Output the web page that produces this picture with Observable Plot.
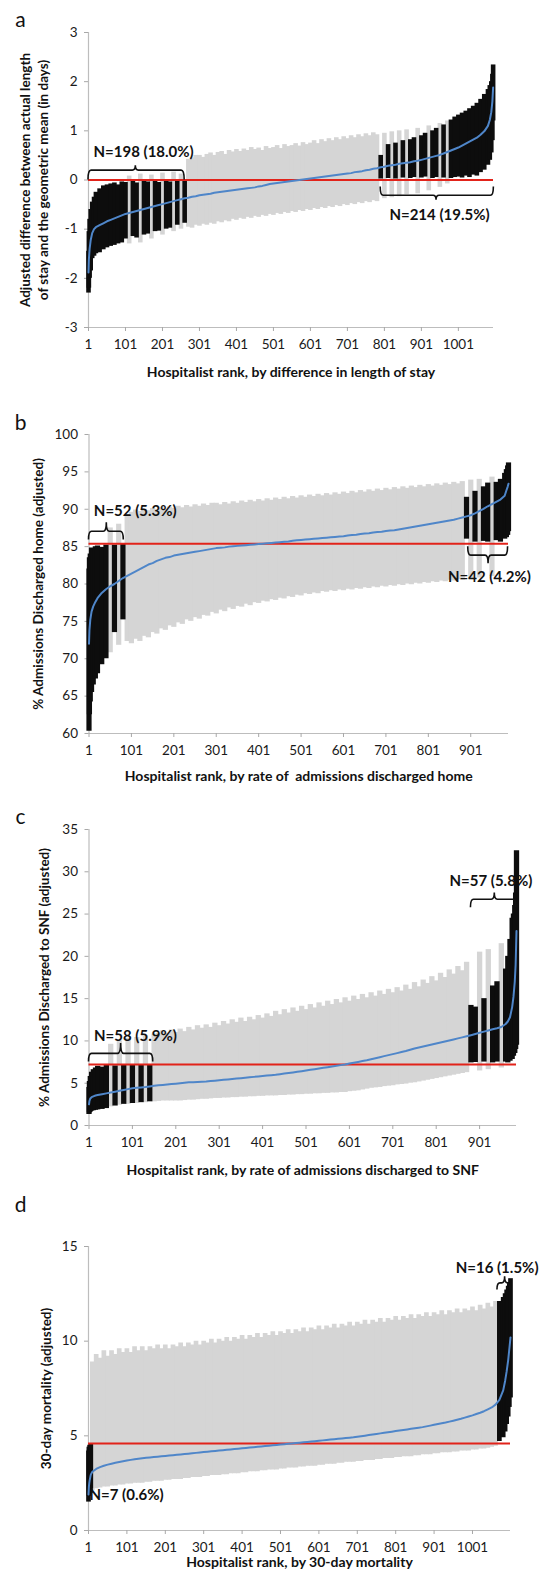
<!DOCTYPE html>
<html><head><meta charset="utf-8">
<script src="https://cdn.jsdelivr.net/npm/d3@7"></script>
<script src="https://cdn.jsdelivr.net/npm/@observablehq/plot@0.6"></script>
<style>
body{margin:0;background:#fff;}
#wrap{position:relative;width:540px;height:1571px;overflow:hidden;background:#fff;}
#wrap svg{position:absolute;left:0;}
</style></head><body><div id="wrap"></div>
<script>
// ---------- Panel a: length of stay ----------
const aRank = [1,2,4,7,11,16,
21,31,41,51,61,71,81,91,
101,111,121,131,141,151,161,171,181,191,
201,211,221,231,241,251,261,271,281,291,
301,311,321,331,341,351,361,371,381,391,
401,411,421,431,441,451,461,471,481,491,
501,511,521,531,541,551,561,571,581,591,
601,611,621,631,641,651,661,671,681,691,
701,711,721,731,741,751,761,771,781,791,
801,811,821,831,841,851,861,871,881,891,
901,911,921,931,941,951,961,971,981,991,
1001,1011,1021,1031,1041,1051,1061,1071,1081,
1086,1090,1093,1095];
const aEst = [-1.88,-1.62,-1.40,-1.22,-1.08,-1.00,
-0.96,-0.92,-0.88,-0.84,-0.81,-0.78,-0.75,-0.72,
-0.69,-0.67,-0.65,-0.63,-0.61,-0.59,-0.57,-0.55,-0.53,-0.51,
-0.49,-0.47,-0.45,-0.43,-0.41,-0.39,-0.37,-0.36,-0.34,-0.33,
-0.31,-0.30,-0.29,-0.28,-0.26,-0.25,-0.24,-0.23,-0.22,-0.21,
-0.20,-0.19,-0.18,-0.17,-0.16,-0.15,-0.13,-0.12,-0.10,-0.08,
-0.07,-0.06,-0.05,-0.04,-0.03,-0.02,-0.01,0.00,0.01,0.02,
0.03,0.04,0.05,0.06,0.07,0.08,0.09,0.10,0.11,0.12,
0.13,0.14,0.16,0.17,0.18,0.20,0.21,0.23,0.24,0.26,
0.27,0.29,0.30,0.31,0.33,0.34,0.35,0.36,0.38,0.39,
0.41,0.43,0.45,0.47,0.49,0.51,0.54,0.57,0.60,0.63,
0.66,0.70,0.74,0.78,0.82,0.86,0.92,0.99,1.10,
1.22,1.38,1.60,1.88];
const aHi = [-1.45,-1.05,-0.80,-0.60,-0.45,-0.35,
-0.25,-0.18,-0.12,-0.10,-0.08,-0.06,-0.10,-0.04,
-0.05,0.08,-0.03,-0.06,0.12,-0.02,-0.04,0.10,-0.03,-0.05,
0.14,-0.02,-0.04,0.16,-0.03,0.12,-0.02,0.42,0.45,0.50,
0.50,0.46,0.52,0.55,0.50,0.56,0.58,0.52,0.60,0.57,
0.62,0.58,0.63,0.60,0.66,0.62,0.65,0.60,0.68,0.64,
0.66,0.70,0.64,0.72,0.68,0.70,0.74,0.69,0.76,0.72,
0.75,0.80,0.74,0.82,0.78,0.84,0.80,0.86,0.82,0.88,
0.84,0.90,0.86,0.92,0.88,0.94,0.90,0.96,0.92,0.50,
0.95,0.72,0.98,0.75,1.00,0.80,1.02,0.82,0.86,1.05,
0.90,0.95,1.10,1.00,1.05,1.15,1.12,1.20,1.22,1.28,
1.32,1.36,1.40,1.45,1.50,1.56,1.64,1.74,1.84,
1.92,2.00,2.15,2.34];
const aLo = [-2.30,-2.20,-2.00,-1.85,-1.60,-1.55,
-1.50,-1.48,-1.42,-1.38,-1.35,-1.33,-1.30,-1.28,
-1.20,-1.30,-1.15,-1.18,-1.28,-1.12,-1.10,-1.20,-1.05,-1.04,
-1.12,-1.00,-0.98,-1.05,-0.92,-1.00,-0.88,-0.96,-0.98,-0.92,
-0.94,-0.90,-0.92,-0.88,-0.90,-0.85,-0.87,-0.83,-0.85,-0.80,
-0.82,-0.78,-0.80,-0.76,-0.78,-0.74,-0.76,-0.72,-0.74,-0.70,
-0.72,-0.68,-0.70,-0.66,-0.68,-0.64,-0.66,-0.62,-0.64,-0.60,
-0.62,-0.58,-0.60,-0.56,-0.58,-0.54,-0.56,-0.52,-0.54,-0.50,
-0.52,-0.48,-0.50,-0.46,-0.48,-0.44,-0.46,-0.42,-0.44,0.02,
-0.38,0.03,-0.36,0.02,-0.34,0.04,-0.30,0.03,0.05,-0.28,
0.04,0.06,-0.22,0.03,0.05,-0.15,0.04,-0.08,0.03,0.05,
0.06,0.04,0.08,0.05,0.10,0.08,0.15,0.20,0.30,
0.40,0.55,0.80,1.20];

// ---------- Panel b: discharged home ----------
const bRank = [1,2,4,7,11,16,
21,31,41,51,61,71,81,91,
101,111,121,131,141,151,161,171,181,191,
201,211,221,231,241,251,261,271,281,291,
301,311,321,331,341,351,361,371,381,391,
401,411,421,431,441,451,461,471,481,491,
501,511,521,531,541,551,561,571,581,591,
601,611,621,631,641,651,661,671,681,691,
701,711,721,731,741,751,761,771,781,791,
801,811,821,831,841,851,861,871,881,891,
901,911,921,931,941,951,961,971,981,
985,988,990];
const bEst = [72.0,73.8,75.2,76.3,77.0,77.6,
78.1,78.8,79.3,79.7,80.0,80.4,80.8,81.1,
81.4,81.7,82.0,82.3,82.6,82.8,83.1,83.3,83.5,83.6,
83.8,83.9,84.0,84.1,84.2,84.3,84.4,84.5,84.6,84.7,
84.8,84.85,84.9,85.0,85.05,85.1,85.15,85.2,85.25,85.3,
85.35,85.4,85.45,85.5,85.55,85.6,85.65,85.7,85.8,85.85,
85.9,85.95,86.0,86.05,86.1,86.15,86.2,86.25,86.3,86.35,
86.4,86.5,86.55,86.6,86.7,86.75,86.8,86.9,86.95,87.0,
87.1,87.15,87.2,87.3,87.4,87.5,87.6,87.7,87.8,87.9,
88.0,88.1,88.2,88.3,88.4,88.5,88.6,88.75,88.9,89.05,
89.2,89.45,89.75,90.05,90.4,90.7,91.0,91.3,91.8,
92.5,93.0,93.4];
const bHi = [82.0,83.5,84.0,84.8,84.5,85.0,
85.1,84.9,85.2,87.5,85.2,88.0,85.3,89.3,
89.6,89.9,89.7,90.0,89.8,90.1,89.9,90.2,90.0,90.3,
90.1,90.4,90.2,90.5,90.3,90.6,90.4,90.7,90.5,90.8,
90.8,90.6,90.9,90.7,91.0,90.8,91.1,90.9,91.2,91.0,
91.3,91.1,91.4,91.2,91.5,91.3,91.6,91.4,91.7,91.5,
91.8,91.6,91.9,91.7,92.0,91.8,92.1,91.9,92.2,92.0,
92.3,92.1,92.4,92.2,92.5,92.3,92.6,92.4,92.7,92.5,
92.8,92.6,92.9,92.7,93.0,92.8,93.1,92.9,93.2,93.0,
93.3,93.1,93.4,93.2,93.5,93.3,93.6,93.4,93.7,91.6,
93.9,92.4,94.0,93.0,93.5,94.3,93.6,94.0,94.8,
95.3,95.8,96.2];
const bLo = [60.3,62.5,64.2,65.5,66.5,67.3,
68.0,69.2,70.0,70.8,73.5,71.8,75.2,72.3,
72.0,72.6,72.3,73.0,72.8,73.5,73.3,74.0,73.8,74.4,
74.2,74.8,74.6,75.2,75.0,75.5,75.3,75.8,75.7,76.2,
76.0,76.5,76.3,76.8,76.6,77.0,76.9,77.3,77.1,77.5,
77.4,77.7,77.6,77.9,77.8,78.1,78.0,78.3,78.2,78.5,
78.4,78.7,78.6,78.8,78.7,79.0,78.9,79.1,79.0,79.2,
79.1,79.3,79.2,79.4,79.3,79.5,79.4,79.6,79.5,79.7,
79.6,79.8,79.7,79.9,79.8,80.0,79.9,80.1,80.0,80.2,
80.1,80.3,80.2,80.4,80.3,80.5,80.4,80.6,80.5,86.0,
80.7,85.6,80.8,85.7,85.6,81.0,85.8,85.6,86.0,
86.2,86.5,87.0];

// ---------- Panel c: discharged to SNF ----------
const cRank = [1,2,4,7,11,16,
21,31,41,51,61,71,81,91,
101,111,121,131,141,151,161,171,181,191,
201,211,221,231,241,251,261,271,281,291,
301,311,321,331,341,351,361,371,381,391,
401,411,421,431,441,451,461,471,481,491,
501,511,521,531,541,551,561,571,581,591,
601,611,621,631,641,651,661,671,681,691,
701,711,721,731,741,751,761,771,781,791,
801,811,821,831,841,851,861,871,881,891,
901,911,921,931,941,951,
961,966,971,976,979,982,984,986];
const cEst = [2.5,2.9,3.2,3.35,3.45,3.55,
3.6,3.7,3.8,3.9,4.0,4.1,4.2,4.3,
4.4,4.45,4.5,4.55,4.62,4.7,4.75,4.8,4.85,4.9,
4.95,5.0,5.05,5.1,5.12,5.15,5.18,5.2,5.25,5.3,
5.35,5.4,5.45,5.5,5.55,5.6,5.65,5.7,5.75,5.8,
5.85,5.9,5.95,6.0,6.07,6.14,6.21,6.28,6.35,6.42,
6.5,6.58,6.66,6.74,6.82,6.9,6.98,7.06,7.14,7.22,
7.32,7.42,7.52,7.62,7.72,7.84,7.96,8.08,8.2,8.32,
8.44,8.56,8.68,8.8,8.95,9.1,9.22,9.34,9.46,9.58,
9.7,9.82,9.94,10.06,10.18,10.3,10.42,10.55,10.68,10.82,
10.96,11.1,11.24,11.38,11.5,11.65,
12.0,12.3,12.8,14.0,15.2,17.0,19.0,23.0];
const cHi = [4.5,5.2,5.8,6.3,6.6,6.8,
7.0,6.9,7.1,9.6,7.05,10.0,7.1,10.3,
7.1,10.4,7.15,10.6,7.1,10.8,10.9,11.2,10.9,11.3,
11.0,11.4,11.1,11.6,11.3,11.8,11.5,11.9,11.6,12.1,
11.8,12.3,12.0,12.5,12.2,12.7,12.3,12.8,12.5,13.0,
12.7,13.2,12.9,13.5,13.1,13.7,13.3,13.9,13.5,14.1,
13.7,14.3,13.9,14.5,14.1,14.7,14.3,14.9,14.5,15.1,
14.7,15.3,14.9,15.5,15.1,15.7,15.3,15.9,15.5,16.1,
15.7,16.3,15.9,16.6,16.1,16.9,16.4,17.2,16.8,17.6,
17.1,18.0,17.5,18.4,17.9,18.8,18.3,19.3,14.2,14.0,
20.5,15.0,20.8,16.5,17.0,21.5,
18.5,20.0,22.0,24.5,25.0,26.0,27.5,32.5];
const cLo = [1.3,1.5,1.6,1.7,1.75,1.8,
1.85,1.9,2.0,2.2,2.3,2.4,2.5,2.5,
2.6,2.6,2.7,2.7,2.8,2.8,2.85,2.9,2.9,2.9,
2.9,2.9,2.95,3.0,3.0,3.05,3.1,3.1,3.15,3.2,
3.2,3.25,3.25,3.3,3.3,3.35,3.35,3.4,3.4,3.45,
3.45,3.5,3.5,3.5,3.55,3.55,3.6,3.6,3.65,3.65,
3.7,3.7,3.75,3.75,3.8,3.8,3.85,3.85,3.9,3.9,
4.0,4.05,4.1,4.2,4.3,4.4,4.45,4.5,4.6,4.65,
4.7,4.8,4.85,4.9,5.0,5.05,5.15,5.25,5.35,5.45,
5.55,5.65,5.75,5.85,5.95,6.05,6.15,6.25,7.4,7.45,
6.45,7.5,6.6,7.4,7.5,6.8,
7.5,7.4,7.6,7.8,8.2,8.5,9.0,9.5];

// ---------- Panel d: 30-day mortality ----------
const dRank = [1,2,3,4,5,6,7,11,
21,31,41,51,61,71,81,91,
101,111,121,131,141,151,161,171,181,191,
201,211,221,231,241,251,261,271,281,291,
301,311,321,331,341,351,361,371,381,391,
401,411,421,431,441,451,461,471,481,491,
501,511,521,531,541,551,561,571,581,591,
601,611,621,631,641,651,661,671,681,691,
701,711,721,731,741,751,761,771,781,791,
801,811,821,831,841,851,861,871,881,891,
901,911,921,931,941,951,961,971,981,991,
1001,1011,1021,1031,1041,1051,1061,1071,1081,
1086,1090,1094,1097,1100];
const dEst = [1.9,2.3,2.5,2.65,2.75,2.85,2.95,3.1,
3.25,3.35,3.42,3.48,3.53,3.58,3.62,3.66,
3.70,3.73,3.76,3.79,3.82,3.84,3.86,3.88,3.90,3.92,
3.94,3.96,3.98,4.00,4.02,4.04,4.06,4.08,4.10,4.12,
4.14,4.16,4.18,4.20,4.22,4.24,4.26,4.28,4.30,4.32,
4.34,4.36,4.38,4.40,4.42,4.44,4.46,4.48,4.50,4.52,
4.54,4.56,4.58,4.60,4.62,4.64,4.66,4.68,4.70,4.72,
4.74,4.76,4.78,4.80,4.82,4.84,4.86,4.88,4.90,4.92,
4.95,4.98,5.01,5.04,5.07,5.10,5.13,5.16,5.19,5.22,
5.25,5.28,5.31,5.34,5.37,5.40,5.43,5.46,5.50,5.54,
5.58,5.62,5.66,5.70,5.75,5.80,5.85,5.90,5.96,6.02,
6.08,6.15,6.22,6.30,6.40,6.50,6.65,6.90,7.40,
7.9,8.4,9.0,9.6,10.2];
const dHi = [4.2,4.4,4.3,4.5,4.4,4.5,4.55,8.9,
9.3,9.1,9.5,9.2,9.5,9.3,9.6,9.4,
9.6,9.4,9.7,9.5,9.7,9.5,9.7,9.6,9.8,9.6,
9.8,9.6,9.8,9.7,9.9,9.7,9.9,9.8,10.0,9.8,
10.0,9.9,10.1,9.9,10.1,10.0,10.2,10.0,10.2,10.1,
10.3,10.1,10.3,10.2,10.4,10.2,10.4,10.3,10.5,10.3,
10.5,10.4,10.6,10.4,10.6,10.5,10.7,10.5,10.7,10.6,
10.8,10.6,10.8,10.7,10.9,10.7,10.9,10.8,11.0,10.8,
11.0,10.9,11.1,10.9,11.1,11.0,11.2,11.0,11.2,11.1,
11.3,11.1,11.3,11.2,11.4,11.2,11.4,11.3,11.5,11.3,
11.5,11.4,11.6,11.4,11.6,11.5,11.7,11.5,11.7,11.6,
11.8,11.6,11.9,11.7,12.0,11.8,12.1,12.1,12.3,
12.5,12.7,12.9,13.1,13.3];
const dLo = [1.5,1.8,1.9,2.0,2.1,2.1,2.2,2.1,
2.2,2.25,2.3,2.3,2.35,2.35,2.4,2.4,
2.45,2.45,2.5,2.5,2.5,2.55,2.55,2.6,2.6,2.6,
2.65,2.65,2.7,2.7,2.7,2.75,2.75,2.8,2.8,2.8,
2.85,2.85,2.9,2.9,2.9,2.95,2.95,3.0,3.0,3.0,
3.05,3.05,3.1,3.1,3.1,3.15,3.15,3.2,3.2,3.2,
3.25,3.25,3.3,3.3,3.3,3.35,3.35,3.4,3.4,3.4,
3.45,3.45,3.5,3.5,3.5,3.55,3.55,3.6,3.6,3.6,
3.65,3.65,3.7,3.7,3.7,3.75,3.75,3.8,3.8,3.8,
3.85,3.85,3.9,3.9,3.9,3.95,3.95,4.0,4.0,4.0,
4.05,4.05,4.1,4.1,4.1,4.15,4.15,4.2,4.2,4.2,
4.25,4.25,4.3,4.3,4.35,4.4,4.45,4.7,4.9,
5.2,5.6,6.0,6.5,7.0];

// ---------- ticks, reference values, labels ----------
const xTicks1100 = [1,101,201,301,401,501,601,701,801,901,1001];
const xTicks1000 = [1,101,201,301,401,501,601,701,801,901];
const yTicksA = [-3,-2,-1,0,1,2,3];
const yTicksB = [60,65,70,75,80,85,90,95,100];
const yTicksC = [0,5,10,15,20,25,30,35];
const yTicksD = [0,5,10,15];
const refs = {a: 0, b: 85.4, c: 7.2, d: 4.6};

const bracketsA = [
  {x1:1, x2:261, xm:129, y:0.19, yEnd:0.0, yNotch:0.29, label:"N=198 (18.0%)", tx:150, ty:0.57},
  {x1:791, x2:1097, xm:942, y:-0.32, yEnd:-0.14, yNotch:-0.41, label:"N=214 (19.5%)", tx:950, ty:-0.72}
];
const bracketsB = [
  {x1:1, x2:83, xm:43, y:87.0, yEnd:85.9, yNotch:88.2, label:"N=52 (5.3%)", tx:110, ty:89.7},
  {x1:895, x2:989, xm:943, y:83.8, yEnd:85.0, yNotch:82.7, label:"N=42 (4.2%)", tx:945, ty:80.9}
];
const bracketsC = [
  {x1:1, x2:149, xm:75, y:8.47, yEnd:7.5, yNotch:9.7, label:"N=58 (5.9%)", tx:108, ty:10.6},
  {x1:881, x2:986, xm:936, y:26.7, yEnd:25.75, yNotch:27.5, label:"N=57 (5.8%)", tx:927, ty:28.85}
];
const bracketsD = [
  {x1:1066, x2:1100, xm:1086, y:13.05, yEnd:12.7, yNotch:13.4, label:"N=16 (1.5%)", tx:1100, ty:13.85, anchor:"end", dx:28}
];
const notesD = [{label:"N=7 (0.6%)", tx:1, ty:1.85, anchor:"start", dx:1}];

const FONT = "Lato, 'Open Sans', 'DejaVu Sans', sans-serif";
const wrap = document.getElementById("wrap");

function bracketMark(b) {
  return (index, scales) => {
    const X = scales.x, Y = scales.y;
    const x1 = X(b.x1), x2 = X(b.x2), xm = X(b.xm);
    const yl = Y(b.y), ye = Y(b.yEnd), yn = Y(b.yNotch);
    const r = 3;
    const p = `M${x1},${ye} Q${x1},${yl} ${x1+r},${yl} L${xm-r},${yl} Q${xm},${yl} ${xm},${yn} Q${xm},${yl} ${xm+r},${yl} L${x2-r},${yl} Q${x2},${yl} ${x2},${ye}`;
    return d3.create("svg:path").attr("d", p).attr("fill", "none")
      .attr("stroke", "#111").attr("stroke-width", 1.6).node();
  };
}

function panel(cfg) {
  const rows = cfg.rank.map((r, i) => ({rank: r, est: cfg.est[i], lo: cfg.lo[i], hi: cfg.hi[i]}));
  const sig = d => d.hi < cfg.ref || d.lo > cfg.ref;
  const gray = rows.filter(d => !sig(d));
  const black = rows.filter(sig);
  const notes = cfg.brackets.concat(cfg.notes || []);
  const marks = [
    Plot.ruleY([cfg.yDomain[0]], {stroke: "#bdbdbd", strokeWidth: 1.2}),
    Plot.ruleX([cfg.xDomain[0]], {stroke: "#bdbdbd", strokeWidth: 1.2}),
    Plot.axisX(cfg.xTicks, {anchor: "bottom", tickSize: 4, tickPadding: 8, stroke: "#a8a8a8",
      fill: "#1a1a1a", fontSize: 13.5, tickFormat: d => String(d), label: null}),
    Plot.axisY(cfg.yTicks, {anchor: "left", tickSize: 4, tickPadding: 7, stroke: "#a8a8a8",
      fill: "#1a1a1a", fontSize: 13.5, tickFormat: d => String(d), label: null}),
    Plot.ruleX(gray, {x: "rank", y1: "lo", y2: "hi", stroke: "#d5d5d5", strokeWidth: cfg.bw, shapeRendering: "geometricPrecision"}),
    Plot.ruleX(black, {x: "rank", y1: "lo", y2: "hi", stroke: "#0d0d0d", strokeWidth: cfg.bw, shapeRendering: "geometricPrecision"}),
    Plot.ruleY([cfg.ref], {stroke: "#e2231a", strokeWidth: 2}),
    Plot.line(rows, {x: "rank", y: "est", stroke: "#4f86c9", strokeWidth: 2}),
    ...cfg.brackets.map(bracketMark),
    ...notes.map(n => Plot.text([n], {x: "tx", y: "ty", text: "label", fontWeight: "bold",
      fontSize: 15, fill: "#111", lineAnchor: "middle", textAnchor: n.anchor || "middle", dx: n.dx || 0})),
    Plot.text([cfg.letter], {frameAnchor: "top-left", dx: cfg.letterDx, dy: cfg.letterDy, text: d => d,
      fontSize: 21, fill: "#111", textAnchor: "middle", lineAnchor: "middle"}),
    ...cfg.ylabels.map((t, i) => Plot.text([t], {frameAnchor: "left", dx: cfg.ylabelDx[i], text: d => d,
      rotate: -90, fontWeight: "bold", fontSize: 13.5, fill: "#111", textAnchor: "middle", lineAnchor: "middle"})),
    Plot.text([cfg.xlabel], {frameAnchor: "bottom", dy: cfg.xlabelDy, text: d => d, fontWeight: "bold",
      fontSize: 14, fill: "#111", textAnchor: "middle", lineAnchor: "middle"})
  ];
  const svg = Plot.plot({
    width: 540, height: cfg.height,
    marginTop: cfg.mt, marginBottom: cfg.mb, marginLeft: cfg.ml, marginRight: cfg.mr,
    x: {type: "linear", domain: cfg.xDomain, label: null},
    y: {type: "linear", domain: cfg.yDomain, label: null},
    style: {fontFamily: FONT, fontSize: "13px", color: "#1a1a1a", background: "transparent", overflow: "visible"},
    marks
  });
  svg.style.top = cfg.top + "px";
  wrap.appendChild(svg);
}

panel({letter: "a", top: 0, height: 400, mt: 32, mb: 73, ml: 88, mr: 47,
  xDomain: [1, 1096], yDomain: [-3, 3], xTicks: xTicks1100, yTicks: yTicksA, ref: refs.a, bw: 4.6,
  rank: aRank, est: aEst, lo: aLo, hi: aHi, brackets: bracketsA,
  letterDx: -68, letterDy: -12,
  ylabels: ["Adjusted difference between actual length", "of stay and the geometric mean (in days)"], ylabelDx: [-63, -45],
  xlabel: "Hospitalist rank, by difference in length of stay", xlabelDy: 45});

panel({letter: "b", top: 400, height: 395, mt: 34, mb: 62, ml: 88.5, mr: 32,
  xDomain: [1, 990], yDomain: [60, 100], xTicks: xTicks1000, yTicks: yTicksB, ref: refs.b, bw: 5.2,
  rank: bRank, est: bEst, lo: bLo, hi: bHi, brackets: bracketsB,
  letterDx: -68.5, letterDy: -11,
  ylabels: ["% Admissions Discharged home (adjusted)"], ylabelDx: [-50.5],
  xlabel: "Hospitalist rank, by rate of  admissions discharged home", xlabelDy: 43});

panel({letter: "c", top: 795, height: 395, mt: 34, mb: 65, ml: 88.5, mr: 24,
  xDomain: [1, 986], yDomain: [0, 35], xTicks: xTicks1000, yTicks: yTicksC, ref: refs.c, bw: 5.3,
  rank: cRank, est: cEst, lo: cLo, hi: cHi, brackets: bracketsC,
  letterDx: -68.5, letterDy: -12,
  ylabels: ["% Admissions Discharged to SNF (adjusted)"], ylabelDx: [-44.5],
  xlabel: "Hospitalist rank, by rate of admissions discharged to SNF", xlabelDy: 45});

panel({letter: "d", top: 1190, height: 381, mt: 56, mb: 41, ml: 88, mr: 30,
  xDomain: [1, 1100], yDomain: [0, 15], xTicks: xTicks1100, yTicks: yTicksD, ref: refs.d, bw: 4.7,
  rank: dRank, est: dEst, lo: dLo, hi: dHi, brackets: bracketsD, notes: notesD,
  letterDx: -68, letterDy: -41,
  ylabels: ["30-day mortality (adjusted)"], ylabelDx: [-42],
  xlabel: "Hospitalist rank, by 30-day mortality", xlabelDy: 32});
</script></body></html>
